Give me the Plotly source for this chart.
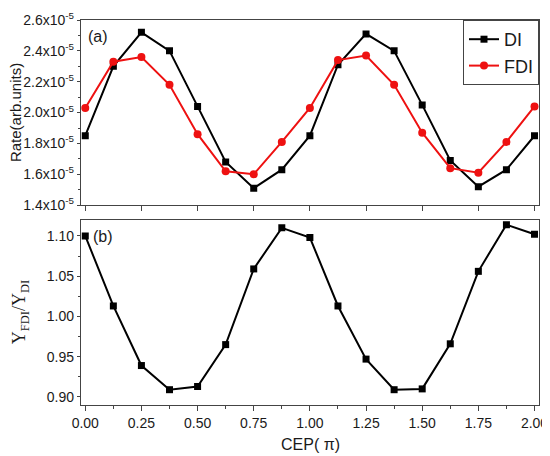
import plotly.graph_objects as go

# CEP in units of pi
cep = [0, 0.125, 0.25, 0.375, 0.5, 0.625, 0.75, 0.875, 1.0,
       1.125, 1.25, 1.375, 1.5, 1.625, 1.75, 1.875, 2.0]

# rates in units of 1e-5 (arb. units)
rate_di = [1.85, 2.30, 2.52, 2.40, 2.04, 1.68, 1.51, 1.63, 1.85,
           2.31, 2.51, 2.40, 2.05, 1.69, 1.52, 1.63, 1.85]
rate_fdi = [2.03, 2.33, 2.36, 2.18, 1.86, 1.62, 1.60, 1.81, 2.03,
            2.34, 2.37, 2.18, 1.87, 1.64, 1.61, 1.81, 2.04]

# ratio Y_FDI / Y_DI
ratio = [1.100, 1.013, 0.939, 0.909, 0.913, 0.965, 1.059, 1.110, 1.098,
         1.013, 0.947, 0.909, 0.910, 0.966, 1.056, 1.114, 1.102]

rate_ticks = [1.4, 1.6, 1.8, 2.0, 2.2, 2.4, 2.6]
ratio_ticks = [0.90, 0.95, 1.00, 1.05, 1.10]
cep_ticks = [0, 0.25, 0.5, 0.75, 1.0, 1.25, 1.5, 1.75, 2.0]

FONT = "Liberation Sans, Arial, sans-serif"
INK = "#1a1a1a"

fig = go.Figure()

fig.add_trace(go.Scatter(
    x=cep, y=rate_di, name="DI", mode="lines+markers",
    line=dict(color="black", width=2),
    marker=dict(symbol="square", size=7, color="black"),
    xaxis="x", yaxis="y",
))
fig.add_trace(go.Scatter(
    x=cep, y=rate_fdi, name="FDI", mode="lines+markers",
    line=dict(color="#ee1111", width=2),
    marker=dict(symbol="circle", size=8, color="#ee1111"),
    xaxis="x", yaxis="y",
))
fig.add_trace(go.Scatter(
    x=cep, y=ratio, name="ratio", mode="lines+markers", showlegend=False,
    line=dict(color="black", width=2),
    marker=dict(symbol="square", size=7, color="black"),
    xaxis="x2", yaxis="y2",
))

axis_common = dict(
    showline=True, linecolor="#444", linewidth=1.3, mirror=True,
    showgrid=False, zeroline=False, ticks="outside", ticklen=5,
    tickcolor="#444", tickwidth=1.2, ticklabeloverflow="allow",
    tickfont=dict(family=FONT, size=14, color=INK),
)
y_common = dict(axis_common, ticklen=3)

# page body has an 8px default margin, so the figure is sized 8px smaller
fig.update_layout(
    width=542, height=448,
    paper_bgcolor="white", plot_bgcolor="white",
    margin=dict(l=73, r=9, t=2, b=51),
    font=dict(family=FONT, color=INK),
    xaxis=dict(
        **axis_common, domain=[0, 1], anchor="y", range=[-0.019, 2.02],
        tickvals=cep_ticks, showticklabels=False,
    ),
    yaxis=dict(
        **y_common, domain=[0.519, 1.0], anchor="x", range=[1.4, 2.6],
        tickvals=rate_ticks,
        ticktext=[f"{v:.1f}x10<sup>-5</sup>" for v in rate_ticks],
        minor=dict(tickmode="linear", tick0=1.4, dtick=0.1, ticklen=2,
                   ticks="outside", tickcolor="#444", showgrid=False),
    ),
    xaxis2=dict(
        **axis_common, domain=[0, 1], anchor="y2", range=[-0.019, 2.02],
        tickvals=cep_ticks, ticktext=[f"{v:.2f}" for v in cep_ticks],
        minor=dict(tickmode="linear", tick0=0, dtick=0.125, ticklen=3,
                   ticks="outside", tickcolor="#444", showgrid=False),
    ),
    yaxis2=dict(
        **y_common, domain=[0, 0.481], anchor="x2", range=[0.89, 1.12],
        tickvals=ratio_ticks, ticktext=[f"{v:.2f}" for v in ratio_ticks],
        minor=dict(tickmode="linear", tick0=0.9, dtick=0.025, ticklen=2,
                   ticks="outside", tickcolor="#444", showgrid=False),
    ),
    legend=dict(
        x=1, y=1, xanchor="right", yanchor="top",
        bordercolor="#444", borderwidth=1, bgcolor="white",
        font=dict(family=FONT, size=18, color=INK),
        tracegroupgap=0, itemwidth=30,
    ),
    showlegend=True,
)

annotations = [
    dict(text="(a)", xref="paper", yref="paper", x=0.012, y=0.985,
         xanchor="left", yanchor="top", showarrow=False,
         font=dict(family=FONT, size=16, color=INK)),
    dict(text="(b)", xref="paper", yref="paper", x=0.022, y=0.466,
         xanchor="left", yanchor="top", showarrow=False,
         font=dict(family=FONT, size=16, color=INK)),
    dict(text="Rate(arb.units)", xref="paper", yref="paper",
         x=-0.1413, y=0.759, xanchor="center", yanchor="middle",
         textangle=-90, showarrow=False, borderpad=0,
         font=dict(family=FONT, size=15, color=INK)),
    dict(text="Y<sub>FDI</sub>/Y<sub>DI</sub>", xref="paper", yref="paper",
         x=-0.133, y=0.241, xanchor="center", yanchor="middle",
         textangle=-90, showarrow=False,
         font=dict(family="Liberation Serif, Times New Roman, serif", size=18, color=INK)),
    dict(text="CEP( π)", xref="paper", yref="paper",
         x=0.5, y=-0.075, xanchor="center", yanchor="top", showarrow=False,
         font=dict(family=FONT, size=16, color=INK)),
]
fig.update_layout(annotations=annotations)

fig.write_html("out.html")
